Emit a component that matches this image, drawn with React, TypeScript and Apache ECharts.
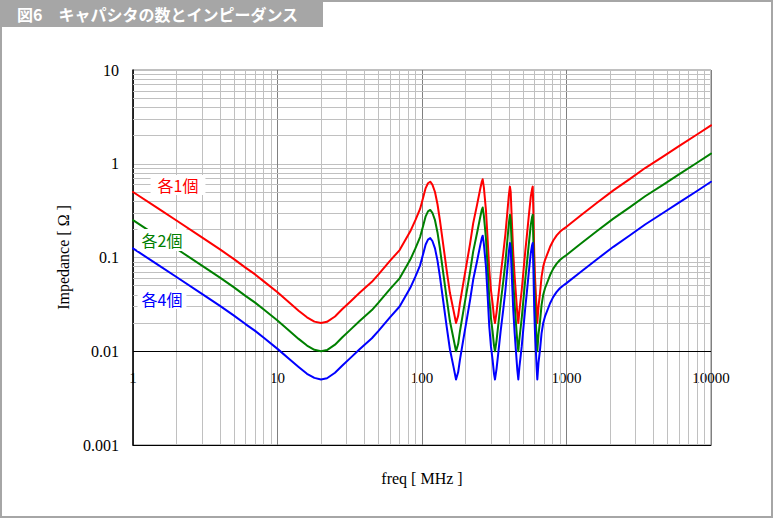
import React, { useEffect, useRef } from "react";
import * as echarts from "echarts";

// Frequency [MHz]
const freq = [
  1, 1.5, 2, 3, 4, 5, 6, 7, 8, 10,
  12, 14, 16, 18, 20, 22, 25, 28, 32, 37,
  45, 50, 60, 70, 83, 90, 97, 102, 106, 110,
  114, 118, 123, 128, 133, 140, 148, 156, 165, 172,
  178, 183, 193, 204, 215, 226, 240, 252, 259, 263,
  268, 277, 285, 292, 300, 308, 315, 320, 328, 337,
  350, 365, 378, 389, 399, 406, 411, 418, 428, 438,
  448, 456, 464, 472, 480, 490, 505, 518, 531, 548,
  566, 578, 584, 590, 598, 606, 615, 622, 628, 640,
  656, 672, 690, 710, 770, 810, 855, 900, 950, 1000,
  1240, 1618, 2110, 2750, 3500, 4680, 6000, 8000, 10000,
];

// 各1個
const z1 = [
  0.5, 0.332, 0.248, 0.164, 0.122, 0.096, 0.078, 0.066, 0.056, 0.0425,
  0.0333, 0.0271, 0.023, 0.0207, 0.02, 0.0206, 0.0235, 0.028, 0.034, 0.042,
  0.055, 0.066, 0.092, 0.12, 0.19, 0.25, 0.33, 0.44, 0.55, 0.62,
  0.643, 0.6, 0.5, 0.37, 0.251, 0.14, 0.074, 0.042, 0.0275, 0.02,
  0.024, 0.0325, 0.053, 0.087, 0.14, 0.231, 0.36, 0.525, 0.64, 0.683,
  0.56, 0.321, 0.15, 0.074, 0.045, 0.0325, 0.023, 0.02, 0.026, 0.038,
  0.065, 0.111, 0.18, 0.296, 0.46, 0.57, 0.5, 0.26, 0.111, 0.062,
  0.038, 0.026, 0.02, 0.027, 0.034, 0.045, 0.075, 0.115, 0.167, 0.275,
  0.446, 0.54, 0.57, 0.3, 0.111, 0.06, 0.038, 0.026, 0.02, 0.03,
  0.042, 0.062, 0.08, 0.094, 0.13, 0.152, 0.172, 0.188, 0.201, 0.213,
  0.277, 0.381, 0.52, 0.69, 0.9, 1.2, 1.54, 2.05, 2.57,
];

// 各2個
const z2 = [
  0.25, 0.166, 0.124, 0.082, 0.061, 0.048, 0.039, 0.033, 0.028, 0.02125,
  0.01665, 0.01355, 0.0115, 0.01035, 0.01, 0.0103, 0.01175, 0.014, 0.017, 0.021,
  0.0275, 0.033, 0.046, 0.06, 0.095, 0.125, 0.165, 0.22, 0.275, 0.31,
  0.3215, 0.3, 0.25, 0.185, 0.1255, 0.07, 0.037, 0.021, 0.01375, 0.01,
  0.012, 0.01625, 0.0265, 0.0435, 0.07, 0.1155, 0.18, 0.2625, 0.32, 0.3415,
  0.28, 0.1605, 0.075, 0.037, 0.0225, 0.01625, 0.0115, 0.01, 0.013, 0.019,
  0.0325, 0.0555, 0.09, 0.148, 0.23, 0.285, 0.25, 0.13, 0.0555, 0.031,
  0.019, 0.013, 0.01, 0.0135, 0.017, 0.0225, 0.0375, 0.0575, 0.0835, 0.1375,
  0.223, 0.27, 0.285, 0.15, 0.0555, 0.03, 0.019, 0.013, 0.01, 0.015,
  0.021, 0.031, 0.04, 0.047, 0.065, 0.076, 0.086, 0.094, 0.1005, 0.1065,
  0.1385, 0.1905, 0.26, 0.345, 0.45, 0.6, 0.77, 1.025, 1.285,
];

// 各4個
const z4 = [
  0.125, 0.083, 0.062, 0.041, 0.0305, 0.024, 0.0195, 0.0165, 0.014, 0.0106,
  0.0083, 0.0068, 0.00575, 0.0052, 0.005, 0.00515, 0.0059, 0.007, 0.0085, 0.0105,
  0.01375, 0.0165, 0.023, 0.03, 0.0475, 0.0625, 0.0825, 0.11, 0.1375, 0.155,
  0.161, 0.15, 0.125, 0.0925, 0.0628, 0.035, 0.0185, 0.0105, 0.0069, 0.005,
  0.006, 0.0081, 0.01325, 0.02175, 0.035, 0.0578, 0.09, 0.131, 0.16, 0.171,
  0.14, 0.0803, 0.0375, 0.0185, 0.01125, 0.0081, 0.00575, 0.005, 0.0065, 0.0095,
  0.01625, 0.0278, 0.045, 0.074, 0.115, 0.1425, 0.125, 0.065, 0.0278, 0.0155,
  0.0095, 0.0065, 0.005, 0.00675, 0.0085, 0.01125, 0.01875, 0.02875, 0.04175, 0.06875,
  0.1115, 0.135, 0.1425, 0.075, 0.0278, 0.015, 0.0095, 0.0065, 0.005, 0.0075,
  0.0105, 0.0155, 0.02, 0.0235, 0.0325, 0.038, 0.043, 0.047, 0.0503, 0.0533,
  0.0693, 0.0953, 0.13, 0.1725, 0.225, 0.3, 0.385, 0.5125, 0.6425,
];

const seriesNames = ["各1個", "各2個", "各4個"];
const seriesColors = ["#ff0000", "#008000", "#0000ff"];
const xTickLabels = ["1", "10", "100", "1000", "10000"];
const yTickLabels = ["0.001", "0.01", "0.1", "1", "10"];
const thresholdZ = 0.01;
const titleText = "図6　キャパシタの数とインピーダンス";
const xName = "freq [ MHz ]";
const yName = "Impedance [ Ω ]";

export default function App() {
  const ref = useRef<HTMLDivElement>(null);

  useEffect(() => {
    if (!ref.current) return;
    const chart = echarts.init(ref.current, undefined, { renderer: "svg" });

    const minorX: number[] = [];
    for (let d = 1; d < 10000; d *= 10) for (let k = 2; k <= 9; k++) minorX.push(d * k);
    const minorY: number[] = [];
    for (let d = 0.001; d < 9; d *= 10) for (let k = 2; k <= 9; k++) minorY.push(+(d * k).toPrecision(3));

    const serif = "Liberation Serif";
    const jp = "Noto Sans CJK JP";
    const allZ = [z1, z2, z4];

    const gridSeries: any = {
      type: "line",
      data: [],
      z: 1,
      silent: true,
      markLine: {
        silent: true,
        z: 1,
        symbol: ["none", "none"],
        label: { show: false },
        animation: false,
        lineStyle: { color: "#c0c0c0", type: "solid", width: 1 },
        data: [
          ...minorX.map((v) => ({ xAxis: v })),
          ...minorY.map((v) => ({ yAxis: v })),
          { yAxis: thresholdZ, lineStyle: { color: "#000000", type: "solid", width: 1 } },
        ],
      },
    };

    const curves = allZ.map((zs, si) => ({
      type: "line",
      name: seriesNames[si],
      data: freq.map((f, i) => [f, zs[i]]),
      showSymbol: false,
      symbol: "none",
      z: 5,
      lineStyle: { color: seriesColors[si], width: 2, join: "round", cap: "round" },
      itemStyle: { color: seriesColors[si] },
    }));

    chart.setOption({
      animation: false,
      backgroundColor: "#ffffff",
      grid: {
        left: 133,
        right: 63,
        top: 70,
        bottom: 74,
        show: true,
        borderColor: "#808080",
        borderWidth: 1,
        containLabel: false,
        outerBoundsMode: "none",
      },
      xAxis: {
        type: "log",
        logBase: 10,
        min: 1,
        max: 10000,
        name: xName,
        nameLocation: "middle",
        nameGap: 25,
        nameTextStyle: { fontFamily: serif, fontSize: 16, color: "#000" },
        axisLine: { show: true, lineStyle: { color: "#000", width: 1 } },
        axisTick: { show: false },
        splitLine: { show: true, lineStyle: { color: "#808080", width: 1 } },
        axisLabel: {
          margin: -67,
          verticalAlign: "middle",
          showMinLabel: true,
          showMaxLabel: true,
          hideOverlap: false,
          fontFamily: serif,
          fontSize: 15,
          color: "#000",
          formatter: (v: number) => xTickLabels[Math.round(Math.log10(v))] ?? "",
        },
      },
      yAxis: {
        type: "log",
        logBase: 10,
        min: 0.001,
        max: 10,
        name: yName,
        nameLocation: "middle",
        nameRotate: 90,
        nameGap: 62,
        nameTextStyle: { fontFamily: serif, fontSize: 16, color: "#000" },
        axisLine: { show: true, lineStyle: { color: "#000", width: 1.5 } },
        axisTick: { show: false },
        splitLine: { show: true, lineStyle: { color: "#c0c0c0", width: 1 } },
        axisLabel: {
          margin: 14,
          showMinLabel: true,
          showMaxLabel: true,
          fontFamily: serif,
          fontSize: 16,
          color: "#000",
          formatter: (v: number) => yTickLabels[Math.round(Math.log10(v)) + 3] ?? "",
        },
      },
      series: [gridSeries, ...curves],
      graphic: [
        {
          type: "rect",
          z: 100,
          silent: true,
          shape: { x: 1, y: 1, width: 771, height: 516 },
          style: { fill: "none", stroke: "#a6a6a6", lineWidth: 2 },
        },
        {
          type: "rect",
          z: 101,
          silent: true,
          shape: { x: 0, y: 0, width: 323, height: 27 },
          style: { fill: "#a6a6a6" },
        },
        {
          type: "text",
          z: 102,
          silent: true,
          x: 17,
          y: 14,
          style: {
            text: titleText,
            fill: "#ffffff",
            fontFamily: jp,
            fontWeight: "bold",
            fontSize: 16,
            verticalAlign: "middle",
          },
        },
        {
          type: "text",
          z: 102,
          silent: true,
          x: 178,
          y: 185,
          style: {
            text: seriesNames[0],
            fill: seriesColors[0],
            fontFamily: jp,
            fontSize: 16,
            align: "center",
            verticalAlign: "middle",
            backgroundColor: "#ffffff",
            padding: [2, 7],
          },
        },
        {
          type: "text",
          z: 102,
          silent: true,
          x: 162,
          y: 240,
          style: {
            text: seriesNames[1],
            fill: seriesColors[1],
            fontFamily: jp,
            fontSize: 16,
            align: "center",
            verticalAlign: "middle",
            backgroundColor: "#ffffff",
            padding: [3, 4],
          },
        },
        {
          type: "text",
          z: 102,
          silent: true,
          x: 162,
          y: 299,
          style: {
            text: seriesNames[2],
            fill: seriesColors[2],
            fontFamily: jp,
            fontSize: 16,
            align: "center",
            verticalAlign: "middle",
            backgroundColor: "#ffffff",
            padding: [2, 4],
          },
        },
      ],
    });

    return () => chart.dispose();
  }, []);

  return (
    <div
      ref={ref}
      style={{ position: "absolute", left: 0, top: 0, width: 774, height: 519, background: "#fff" }}
    />
  );
}
